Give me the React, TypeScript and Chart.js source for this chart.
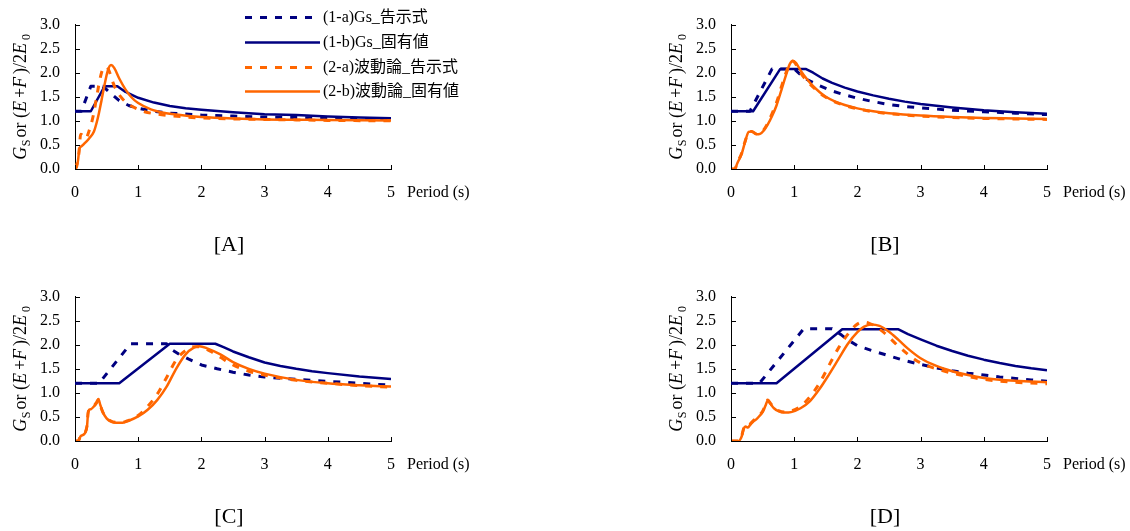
import React, { useEffect, useRef } from "react";
import { Chart, registerables } from "chart.js";
Chart.register(...registerables);

type P = [number, number];

const LS = '"Liberation Serif", "Times New Roman", serif';
const LSJ = '"Liberation Serif", "Noto Sans CJK JP", serif';

const X_TICKS = [0, 1, 2, 3, 4, 5];
const Y_TICKS = [0, 0.5, 1, 1.5, 2, 2.5, 3];
const SERIES_NAMES = ["(1-a)Gs_告示式", "(1-b)Gs_固有値", "(2-a)波動論_告示式", "(2-b)波動論_固有値"];
const PANEL_LABELS = ["[A]", "[B]", "[C]", "[D]"];
const X_TITLE = "Period (s)";

// ---------- Panel A ----------
const A_1a: P[] = [[0, 1.2], [0.1, 1.2], [0.25, 1.72], [0.44, 1.72], [0.55, 1.59], [0.7, 1.42], [0.85, 1.32], [1.0, 1.26], [1.25, 1.2], [1.5, 1.16], [2.0, 1.12], [2.5, 1.1], [3.0, 1.08], [3.5, 1.07], [4.0, 1.06], [4.5, 1.05], [5.0, 1.04]];
const A_1b: P[] = [[0, 1.2], [0.25, 1.2], [0.47, 1.72], [0.67, 1.72], [0.8, 1.6], [1.0, 1.48], [1.25, 1.38], [1.5, 1.31], [1.75, 1.26], [2.0, 1.23], [2.5, 1.18], [3.0, 1.14], [3.5, 1.12], [4.0, 1.09], [4.5, 1.07], [5.0, 1.055]];
const A_2a: P[] = [[0, 0], [0.03, 0.1], [0.06, 0.3], [0.09, 0.72], [0.12, 0.7], [0.17, 0.63], [0.22, 0.78], [0.26, 0.95], [0.3, 1.18], [0.35, 1.55], [0.4, 1.9], [0.45, 2.1], [0.5, 2.12], [0.55, 2.0], [0.6, 1.8], [0.67, 1.6], [0.75, 1.46], [0.85, 1.34], [0.95, 1.27], [1.1, 1.19], [1.3, 1.14], [1.5, 1.11], [1.75, 1.08], [2.0, 1.06], [2.5, 1.04], [3.0, 1.03], [3.5, 1.02], [4.0, 1.01], [5.0, 1.0]];
const A_2b: P[] = [[0, 0], [0.03, 0.05], [0.05, 0.2], [0.07, 0.43], [0.1, 0.47], [0.15, 0.53], [0.22, 0.63], [0.3, 0.78], [0.34, 0.95], [0.38, 1.17], [0.42, 1.43], [0.46, 1.7], [0.52, 2.05], [0.57, 2.16], [0.62, 2.1], [0.7, 1.88], [0.8, 1.65], [0.9, 1.48], [1.0, 1.37], [1.2, 1.24], [1.4, 1.17], [1.6, 1.13], [1.8, 1.1], [2.0, 1.08], [2.5, 1.05], [3.0, 1.03], [4.0, 1.02], [5.0, 1.01]];

// ---------- Panel B ----------
const B_1a: P[] = [[0, 1.2], [0.3, 1.2], [0.65, 2.08], [1.0, 2.08], [1.1, 1.96], [1.2, 1.86], [1.4, 1.73], [1.6, 1.62], [1.8, 1.54], [2.0, 1.47], [2.25, 1.4], [2.5, 1.34], [2.75, 1.3], [3.0, 1.27], [3.5, 1.22], [4.0, 1.19], [4.5, 1.16], [5.0, 1.13]];
const B_1b: P[] = [[0, 1.2], [0.35, 1.2], [0.78, 2.08], [1.18, 2.08], [1.3, 2.0], [1.45, 1.88], [1.6, 1.79], [1.8, 1.69], [2.0, 1.61], [2.25, 1.53], [2.5, 1.46], [2.75, 1.4], [3.0, 1.35], [3.5, 1.28], [4.0, 1.22], [4.5, 1.18], [5.0, 1.15]];
const B_2a: P[] = [[0, 0], [0.06, 0], [0.1, 0.13], [0.17, 0.33], [0.22, 0.56], [0.28, 0.76], [0.33, 0.78], [0.4, 0.73], [0.46, 0.74], [0.52, 0.82], [0.58, 0.95], [0.65, 1.15], [0.72, 1.38], [0.8, 1.72], [0.87, 2.0], [0.93, 2.2], [0.98, 2.24], [1.03, 2.17], [1.1, 2.0], [1.2, 1.83], [1.3, 1.7], [1.4, 1.58], [1.5, 1.49], [1.65, 1.39], [1.8, 1.32], [2.0, 1.25], [2.25, 1.19], [2.5, 1.15], [3.0, 1.1], [3.5, 1.07], [4.0, 1.05], [4.5, 1.04], [5.0, 1.03]];
const B_2b: P[] = [[0, 0], [0.06, 0], [0.1, 0.12], [0.17, 0.32], [0.22, 0.55], [0.28, 0.77], [0.33, 0.78], [0.4, 0.72], [0.46, 0.73], [0.52, 0.8], [0.58, 0.92], [0.65, 1.1], [0.72, 1.32], [0.8, 1.65], [0.87, 1.95], [0.93, 2.18], [0.98, 2.25], [1.03, 2.2], [1.1, 2.05], [1.2, 1.87], [1.3, 1.72], [1.4, 1.6], [1.5, 1.5], [1.65, 1.4], [1.8, 1.33], [2.0, 1.26], [2.25, 1.2], [2.5, 1.16], [3.0, 1.11], [3.5, 1.08], [4.0, 1.06], [4.5, 1.05], [5.0, 1.04]];

// ---------- Panel C ----------
const C_1a: P[] = [[0, 1.2], [0.38, 1.2], [0.88, 2.02], [1.45, 2.02], [1.55, 1.88], [1.65, 1.8], [1.8, 1.7], [2.0, 1.58], [2.25, 1.5], [2.5, 1.43], [2.75, 1.37], [3.0, 1.33], [3.5, 1.28], [4.0, 1.24], [4.5, 1.2], [5.0, 1.16]];
const C_1b: P[] = [[0, 1.2], [0.7, 1.2], [1.5, 2.02], [2.22, 2.02], [2.35, 1.95], [2.5, 1.86], [2.75, 1.74], [3.0, 1.63], [3.25, 1.56], [3.5, 1.5], [3.75, 1.45], [4.0, 1.41], [4.5, 1.34], [5.0, 1.29]];
const C_2a: P[] = [[0, 0], [0.05, 0], [0.09, 0.11], [0.15, 0.16], [0.19, 0.32], [0.21, 0.6], [0.25, 0.67], [0.3, 0.73], [0.34, 0.8], [0.37, 0.86], [0.4, 0.74], [0.44, 0.6], [0.5, 0.48], [0.56, 0.42], [0.65, 0.39], [0.75, 0.39], [0.85, 0.43], [1.0, 0.53], [1.15, 0.72], [1.3, 0.97], [1.45, 1.32], [1.6, 1.68], [1.75, 1.88], [1.9, 1.96], [2.0, 1.95], [2.15, 1.86], [2.3, 1.74], [2.5, 1.58], [2.75, 1.45], [3.0, 1.37], [3.5, 1.26], [4.0, 1.2], [4.5, 1.15], [5.0, 1.12]];
const C_2b: P[] = [[0, 0], [0.05, 0], [0.09, 0.1], [0.15, 0.15], [0.19, 0.3], [0.21, 0.62], [0.25, 0.66], [0.3, 0.72], [0.34, 0.78], [0.37, 0.87], [0.4, 0.75], [0.44, 0.6], [0.5, 0.47], [0.56, 0.41], [0.65, 0.38], [0.75, 0.38], [0.85, 0.42], [1.0, 0.51], [1.15, 0.65], [1.3, 0.85], [1.45, 1.13], [1.6, 1.5], [1.75, 1.8], [1.88, 1.94], [1.97, 1.97], [2.1, 1.92], [2.3, 1.8], [2.5, 1.64], [2.75, 1.5], [3.0, 1.4], [3.5, 1.27], [4.0, 1.2], [4.5, 1.16], [5.0, 1.13]];

// ---------- Panel D ----------
const D_1a: P[] = [[0, 1.2], [0.45, 1.2], [1.15, 2.33], [1.6, 2.33], [1.75, 2.2], [1.85, 2.1], [2.0, 1.98], [2.25, 1.87], [2.5, 1.77], [2.75, 1.67], [3.0, 1.59], [3.25, 1.52], [3.5, 1.46], [3.75, 1.41], [4.0, 1.37], [4.25, 1.33], [4.5, 1.3], [4.75, 1.27], [5.0, 1.24]];
const D_1b: P[] = [[0, 1.2], [0.72, 1.2], [1.76, 2.32], [2.65, 2.32], [2.8, 2.22], [3.0, 2.11], [3.25, 1.98], [3.5, 1.87], [3.75, 1.77], [4.0, 1.69], [4.25, 1.62], [4.5, 1.56], [4.75, 1.51], [5.0, 1.47]];
const D_2a: P[] = [[0, 0], [0.12, 0], [0.17, 0.11], [0.2, 0.26], [0.23, 0.31], [0.27, 0.3], [0.3, 0.35], [0.35, 0.42], [0.4, 0.47], [0.45, 0.54], [0.5, 0.62], [0.55, 0.76], [0.58, 0.85], [0.62, 0.79], [0.68, 0.69], [0.75, 0.63], [0.85, 0.6], [0.95, 0.62], [1.1, 0.72], [1.25, 0.92], [1.4, 1.2], [1.55, 1.57], [1.7, 1.93], [1.85, 2.22], [1.97, 2.4], [2.08, 2.47], [2.18, 2.45], [2.3, 2.37], [2.45, 2.22], [2.6, 2.03], [2.8, 1.8], [3.0, 1.62], [3.25, 1.5], [3.5, 1.41], [3.75, 1.34], [4.0, 1.28], [4.5, 1.22], [5.0, 1.19]];
const D_2b: P[] = [[0, 0], [0.12, 0], [0.17, 0.1], [0.2, 0.25], [0.23, 0.3], [0.27, 0.28], [0.3, 0.33], [0.35, 0.4], [0.4, 0.45], [0.45, 0.52], [0.5, 0.6], [0.55, 0.75], [0.58, 0.84], [0.62, 0.78], [0.68, 0.68], [0.75, 0.62], [0.85, 0.59], [0.95, 0.6], [1.1, 0.68], [1.25, 0.83], [1.4, 1.08], [1.55, 1.38], [1.7, 1.7], [1.85, 2.02], [2.0, 2.26], [2.1, 2.37], [2.22, 2.42], [2.35, 2.39], [2.5, 2.27], [2.65, 2.1], [2.8, 1.92], [3.0, 1.72], [3.25, 1.56], [3.5, 1.45], [3.75, 1.37], [4.0, 1.31], [4.5, 1.25], [5.0, 1.22]];

const NAVY = "#000080";
const ORANGE = "#FF6600";

const CANVAS_W = 474;
const CANVAS_H = 259;
// target plot area inside each canvas
const AREA = { left: 75, top: 18, right: 391, bottom: 169 };

const PANELS = [
  { label: PANEL_LABELS[0], left: 0, top: 0, series: [A_1a, A_1b, A_2a, A_2b], legend: true },
  { label: PANEL_LABELS[1], left: 656, top: 0, series: [B_1a, B_1b, B_2a, B_2b], legend: false },
  { label: PANEL_LABELS[2], left: 0, top: 272, series: [C_1a, C_1b, C_2a, C_2b], legend: false },
  { label: PANEL_LABELS[3], left: 656, top: 272, series: [D_1a, D_1b, D_2a, D_2b], legend: false },
];

const STYLES = [
  { color: NAVY, dash: [7, 8], width: 3, order: 4, mono: false },
  { color: NAVY, dash: [], width: 2.5, order: 3, mono: false },
  { color: ORANGE, dash: [7, 8], width: 3, order: 2, mono: true },
  { color: ORANGE, dash: [], width: 2.5, order: 1, mono: true },
];

function drawYTitle(ctx: CanvasRenderingContext2D, cx: number, cy: number) {
  const b = 18;
  const s = 12;
  const segs = [
    { t: "G", f: `italic ${b}px ${LS}`, dy: 0, gap: 0.5 },
    { t: "S", f: `${s}px ${LS}`, dy: 4, gap: 2 },
    { t: "or (", f: `${b}px ${LS}`, dy: 0, gap: 0 },
    { t: "E", f: `italic ${b}px ${LS}`, dy: 0, gap: 3 },
    { t: "+", f: `${b}px ${LS}`, dy: 0, gap: 0 },
    { t: "F", f: `italic ${b}px ${LS}`, dy: 0, gap: 3 },
    { t: ")/2", f: `${b}px ${LS}`, dy: 0, gap: 0 },
    { t: "E", f: `italic ${b}px ${LS}`, dy: 0, gap: 3 },
    { t: "0", f: `${s}px ${LS}`, dy: 4, gap: 0 },
  ];
  ctx.save();
  ctx.translate(cx, cy);
  ctx.rotate(-Math.PI / 2);
  ctx.fillStyle = "#000";
  ctx.textBaseline = "alphabetic";
  ctx.textAlign = "left";
  let total = 0;
  const widths: number[] = [];
  for (const sg of segs) {
    ctx.font = sg.f;
    const w = ctx.measureText(sg.t).width + sg.gap;
    widths.push(w);
    total += w;
  }
  let x = -total / 2;
  segs.forEach((sg, i) => {
    ctx.font = sg.f;
    ctx.fillText(sg.t, x, 6 + sg.dy);
    x += widths[i];
  });
  ctx.restore();
}

const decoPlugin = {
  id: "deco",
  afterDraw(chart: any, _args: any, opts: any) {
    const { ctx, chartArea: ca } = chart;
    const xs = chart.scales.x;
    const ys = chart.scales.y;
    ctx.save();
    ctx.strokeStyle = "#000";
    ctx.lineWidth = 1;
    ctx.beginPath();
    for (const v of Y_TICKS) {
      const py = Math.round(ys.getPixelForValue(v)) + 0.5;
      ctx.moveTo(ca.left, py);
      ctx.lineTo(ca.left + 5, py);
    }
    for (const v of X_TICKS) {
      const px = Math.round(xs.getPixelForValue(v)) + 0.5;
      ctx.moveTo(px, ca.bottom);
      ctx.lineTo(px, ca.bottom - 4);
    }
    ctx.stroke();

    ctx.fillStyle = "#000";
    ctx.font = `16px ${LS}`;
    ctx.textAlign = "left";
    ctx.textBaseline = "middle";
    ctx.fillText(X_TITLE, ca.right + 16, ca.bottom + 24);

    ctx.font = `22px ${LS}`;
    ctx.textAlign = "center";
    ctx.fillText(opts.label, (ca.left + ca.right) / 2 - 4, 245);

    drawYTitle(ctx, 20, (ca.top + ca.bottom) / 2);

    if (opts.legend) {
      const rows = [17, 42, 67, 91];
      chart.data.datasets.forEach((ds: any, i: number) => {
        const y = rows[i] + 0.5;
        ctx.save();
        ctx.strokeStyle = ds.borderColor;
        ctx.lineWidth = ds.borderWidth;
        ctx.setLineDash(ds.borderDash || []);
        ctx.beginPath();
        ctx.moveTo(245, y);
        ctx.lineTo(ds.borderDash && ds.borderDash.length ? 312 : 320, y);
        ctx.stroke();
        ctx.restore();
        ctx.fillStyle = "#000";
        ctx.font = `16px ${LSJ}`;
        ctx.textAlign = "left";
        ctx.textBaseline = "middle";
        ctx.fillText(ds.label, 323, rows[i] + 1);
      });
    }
    ctx.restore();
  },
};

function buildConfig(cfg: (typeof PANELS)[number], pad: { left: number; right: number; top: number; bottom: number }): any {
  return {
    type: "line",
    data: {
      datasets: cfg.series.map((pts, i) => ({
        label: SERIES_NAMES[i],
        data: pts.map(([x, y]) => ({ x, y })),
        borderColor: STYLES[i].color,
        backgroundColor: STYLES[i].color,
        borderWidth: STYLES[i].width,
        borderDash: STYLES[i].dash,
        borderCapStyle: "butt",
        borderJoinStyle: "round",
        pointRadius: 0,
        fill: false,
        order: STYLES[i].order,
        tension: 0,
        cubicInterpolationMode: STYLES[i].mono ? "monotone" : "default",
      })),
    },
    plugins: [decoPlugin],
    options: {
      responsive: false,
      animation: false,
      devicePixelRatio: 1,
      layout: { padding: { ...pad } },
      plugins: {
        legend: { display: false },
        tooltip: { enabled: false },
        title: { display: false },
        deco: { label: cfg.label, legend: cfg.legend },
      },
      scales: {
        x: {
          type: "linear",
          min: 0,
          max: 5,
          afterFit: (s: any) => {
            s.height = 40;
          },
          grid: { display: false, drawTicks: false },
          border: { display: true, color: "#000", width: 1 },
          ticks: {
            stepSize: 1,
            color: "#000",
            padding: 14,
            font: { family: LS, size: 16 },
            callback: (v: any) => String(v),
          },
        },
        y: {
          type: "linear",
          min: 0,
          max: 3,
          afterFit: (s: any) => {
            s.width = 75;
          },
          grid: { display: false, drawTicks: false },
          border: { display: true, color: "#000", width: 1 },
          ticks: {
            stepSize: 0.5,
            color: "#000",
            padding: 15,
            font: { family: LS, size: 16 },
            callback: (v: any) => Number(v).toFixed(1),
          },
        },
      },
    },
  };
}

function Panel({ cfg }: { cfg: (typeof PANELS)[number] }) {
  const ref = useRef<HTMLCanvasElement>(null);
  useEffect(() => {
    const canvas = ref.current as HTMLCanvasElement;
    let pad = { left: 0, top: AREA.top, right: CANVAS_W - AREA.right, bottom: CANVAS_H - AREA.bottom - 40 };
    let chart = new Chart(canvas, buildConfig(cfg, pad));
    const ca = chart.chartArea;
    const fixed = {
      left: Math.max(0, pad.left + (AREA.left - ca.left)),
      top: Math.max(0, pad.top + (AREA.top - ca.top)),
      right: Math.max(0, pad.right + (ca.right - AREA.right)),
      bottom: Math.max(0, pad.bottom + (ca.bottom - AREA.bottom)),
    };
    if (fixed.left !== pad.left || fixed.top !== pad.top || fixed.right !== pad.right || fixed.bottom !== pad.bottom) {
      chart.destroy();
      pad = fixed;
      chart = new Chart(canvas, buildConfig(cfg, pad));
    }
    return () => chart.destroy();
  }, []);
  return (
    <canvas
      ref={ref}
      width={CANVAS_W}
      height={CANVAS_H}
      style={{ position: "absolute", left: cfg.left, top: cfg.top, display: "block" }}
    />
  );
}

export default function App() {
  return (
    <div
      style={{
        position: "fixed",
        left: 0,
        top: 0,
        width: 1130,
        height: 531,
        overflow: "hidden",
        background: "#fff",
      }}
    >
      {PANELS.map((p) => (
        <Panel key={p.label} cfg={p} />
      ))}
    </div>
  );
}
